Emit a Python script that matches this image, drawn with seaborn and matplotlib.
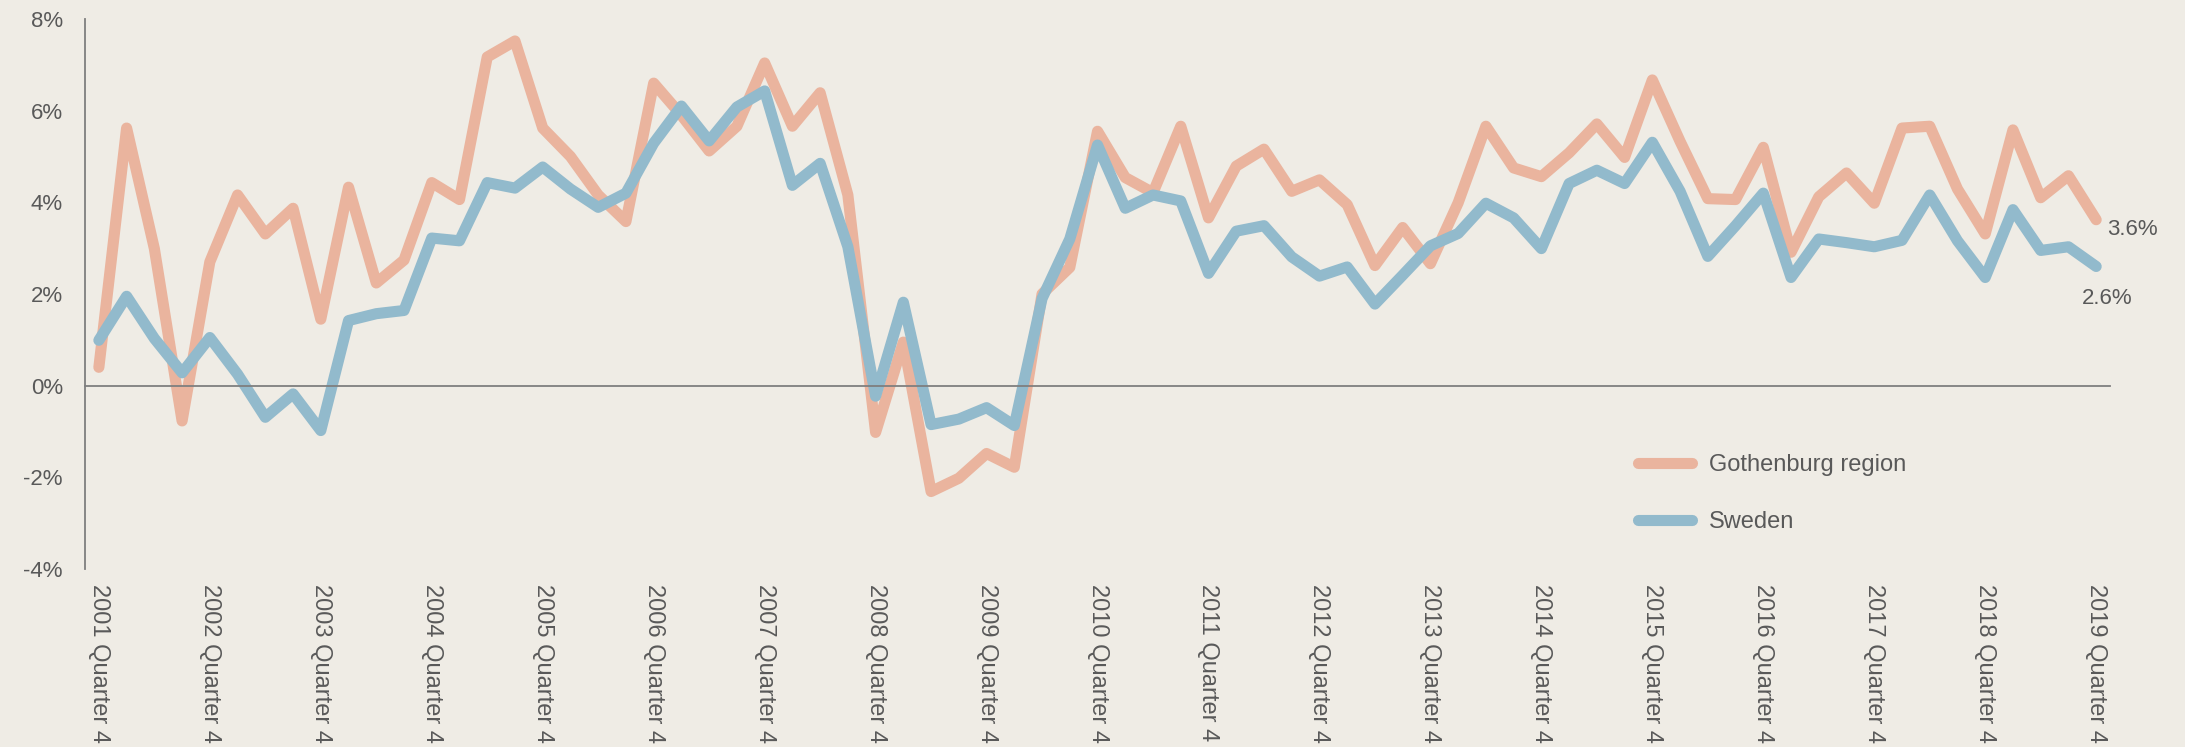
import numpy as np
import pandas as pd
import matplotlib
matplotlib.use("Agg")
import matplotlib.pyplot as plt
import seaborn as sns

# quarterly growth, 2001 Q4 .. 2019 Q4
quarters = [f"{y} Quarter {q}" for y in range(2001, 2020) for q in range(1, 5)][3:]
gothenburg = [0.40, 5.62, 2.99, -0.77, 2.70, 4.16, 3.31, 3.87, 1.45, 4.33,
              2.24, 2.74, 4.43, 4.06, 7.17, 7.52, 5.62, 5.00, 4.16, 3.58,
              6.60, 5.90, 5.12, 5.66, 7.04, 5.66, 6.39, 4.16, -1.02, 0.95,
              -2.31, -2.02, -1.48, -1.78, 2.00, 2.58, 5.55, 4.54, 4.21, 5.66,
              3.66, 4.79, 5.16, 4.24, 4.49, 3.95, 2.62, 3.45, 2.66, 3.99,
              5.66, 4.75, 4.56, 5.08, 5.71, 4.98, 6.67, 5.33, 4.08, 4.06,
              5.20, 2.91, 4.12, 4.64, 3.98, 5.62, 5.66, 4.29, 3.31, 5.58,
              4.10, 4.58, 3.62]
sweden = [0.99, 1.95, 1.03, 0.28, 1.05, 0.25, -0.69, -0.18, -0.98, 1.42,
          1.57, 1.64, 3.22, 3.16, 4.43, 4.31, 4.77, 4.29, 3.89, 4.20,
          5.29, 6.10, 5.34, 6.08, 6.43, 4.37, 4.85, 3.03, -0.23, 1.82,
          -0.85, -0.73, -0.48, -0.87, 1.90, 3.20, 5.25, 3.87, 4.16, 4.03,
          2.45, 3.37, 3.49, 2.81, 2.39, 2.59, 1.78, 2.41, 3.05, 3.32,
          3.98, 3.66, 2.99, 4.41, 4.70, 4.41, 5.31, 4.24, 2.82, 3.49,
          4.20, 2.36, 3.20, 3.12, 3.03, 3.17, 4.16, 3.16, 2.36, 3.84,
          2.95, 3.03, 2.60]
series = ["Gothenburg region", "Sweden"]
colors = ["#EAB49E", "#92BACC"]
y_ticks = [-4, -2, 0, 2, 4, 6, 8]

bg = "#EFECE5"
text_c = "#595959"
axis_c = "#7F7F7F"

df = pd.DataFrame({
    "idx": list(range(len(quarters))) * 2,
    "value": gothenburg + sweden,
    "series": [series[0]] * len(gothenburg) + [series[1]] * len(sweden),
})

sns.set_style("white")
plt.rcParams["font.family"] = ["Liberation Sans", "DejaVu Sans"]

fig = plt.figure(figsize=(21.85, 7.47), dpi=100, facecolor=bg)
ax = fig.add_axes([0.0389, 0.2383, 0.9268, 0.7363])
ax.set_facecolor(bg)

sns.lineplot(data=df, x="idx", y="value", hue="series", palette=colors,
             linewidth=8, ax=ax, solid_capstyle="round", solid_joinstyle="round")

ax.set_xlim(-0.5, len(quarters) - 0.5)
ax.set_ylim(-4, 8)

for s in ["top", "right"]:
    ax.spines[s].set_visible(False)
ax.spines["left"].set_color(axis_c)
ax.spines["bottom"].set_color(axis_c)
ax.spines["left"].set_linewidth(1.3)
ax.spines["bottom"].set_linewidth(1.3)
ax.spines["bottom"].set_position(("data", 0))

ax.set_yticks(y_ticks)
ax.set_yticklabels([f"{t}%" for t in y_ticks])
ax.tick_params(axis="y", direction="in", length=4.5, width=1.3, color=axis_c,
               labelsize=16, labelcolor=text_c, pad=16)

label_pos = list(range(0, len(quarters), 4))
ax.set_xticks(label_pos)
ax.set_xticklabels([quarters[i] for i in label_pos], rotation=270)
ax.set_xticks([p - 0.5 for p in label_pos[1:]], minor=True)
ax.tick_params(axis="x", which="major", length=0, labelsize=17,
               labelcolor=text_c, pad=143)
ax.tick_params(axis="x", which="minor", direction="in", length=5, width=1.3,
               color=axis_c)
ax.set_xlabel("")
ax.set_ylabel("")

# end value labels
last = len(quarters) - 1
ax.annotate(f"{gothenburg[-1]:.1f}%", (last, gothenburg[-1]), xytext=(8, -7),
            textcoords="offset points", ha="left", va="center",
            fontsize=16, color=text_c, annotation_clip=False)
ax.annotate(f"{sweden[-1]:.1f}%", (last, sweden[-1]), xytext=(-10, -23),
            textcoords="offset points", ha="left", va="center",
            fontsize=16, color=text_c, annotation_clip=False)

handles, labels = ax.get_legend_handles_labels()
leg = ax.legend(handles, labels, loc="center left",
                bbox_to_anchor=(0.7497, 0.339), bbox_transform=fig.transFigure,
                frameon=False, fontsize=17, labelspacing=1.5, handlelength=2.3,
                handletextpad=0.7, borderpad=0, borderaxespad=0)
for t in leg.get_texts():
    t.set_color(text_c)
for h in leg.get_lines():
    h.set_linewidth(8)
    h.set_solid_capstyle("round")

fig.savefig("out.png", dpi=100, facecolor=bg)
